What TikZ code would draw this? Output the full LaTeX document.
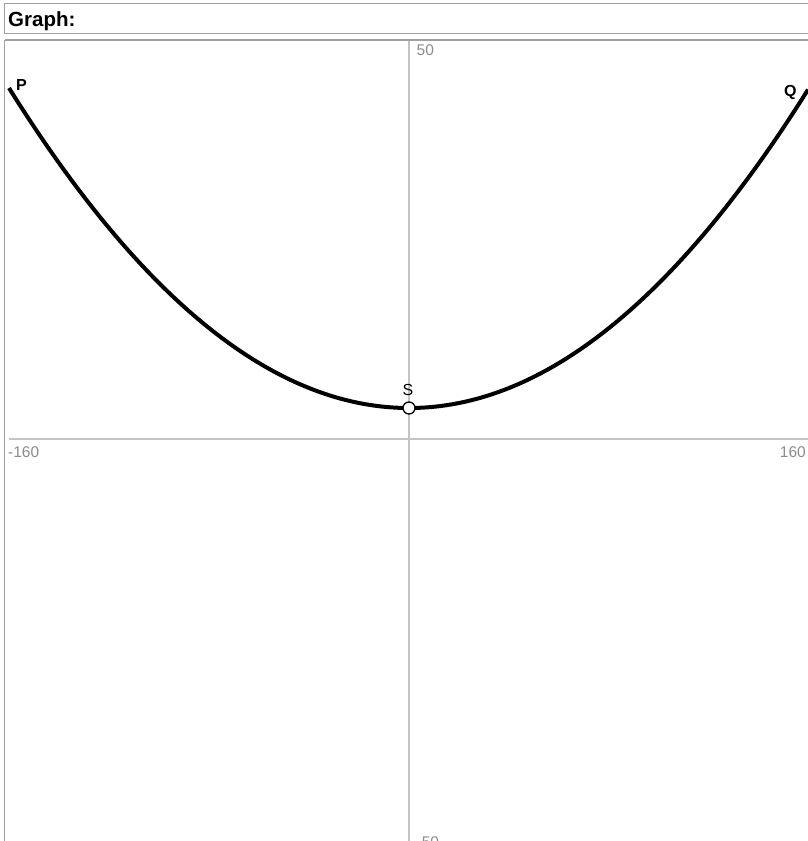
\documentclass[tikz,border=0pt]{standalone}
\usepackage{fontspec}
\setmainfont{Liberation Sans}
\definecolor{frame}{HTML}{A0A0A0}
\definecolor{axis}{HTML}{C4C4C4}
\definecolor{ticklab}{HTML}{8C8C8C}
\begin{document}
\begin{tikzpicture}[x=1pt,y=-1pt,
  axisline/.style={draw=axis,line width=2pt},
  ticklabel/.style={text=ticklab,font=\fontsize{15.5}{15.5}\selectfont,inner sep=0pt},
  ptlabel/.style={font=\fontsize{16}{16}\selectfont,inner sep=0pt},
  curve/.style={line width=4pt,black},
  framebox/.style={draw=frame,line width=1pt}]
\useasboundingbox[fill=white] (0,0) rectangle (808,841);
% header
\draw[framebox] (808,3.5) -- (4.5,3.5) -- (4.5,33.5) -- (808,33.5);
\node[anchor=base west,inner sep=0pt,font=\fontsize{20.5}{20.5}\selectfont\bfseries] (title) at (8,26.5) {Graph:};
% graph frame
\draw[draw=frame,line width=2pt] (808,39.5) -- (4.5,39.5);
\draw[framebox] (4.5,39.5) -- (4.5,841);
% axes
\coordinate (ytop) at (409,40.5);
\coordinate (ybot) at (409,841);
\coordinate (xleft) at (9,439);
\coordinate (xright) at (808,439);
\draw[axisline] (ytop) -- (ybot);
\draw[axisline] (xleft) -- (xright);
\node[ticklabel,anchor=base west] (l50) at (416.5,55) {50};
\node[ticklabel,anchor=base west] (lm160) at (8,457) {-160};
\node[ticklabel,anchor=base east] (l160) at (806,457) {160};
\node[ticklabel,anchor=base west] (lm50) at (416.5,847) {-50};
% curve
\draw[curve] plot[domain=9:808,samples=120,smooth] (\x,{408-320*((\x-409)/400)^2});
\coordinate (P) at (9,88);
\coordinate (Q) at (808,88);
\node[circle,draw=black,fill=white,line width=1.3pt,minimum size=12pt,inner sep=0pt] (S) at (409,408) {};
\node[ptlabel,anchor=base] (Slab) at (408,395) {S};
\node[ptlabel,anchor=base west,font=\fontsize{16}{16}\selectfont\bfseries] (Plab) at (16,90) {P};
\node[ptlabel,anchor=base west,font=\fontsize{16}{16}\selectfont\bfseries] (Qlab) at (784,96) {Q};
\end{tikzpicture}
\end{document}
